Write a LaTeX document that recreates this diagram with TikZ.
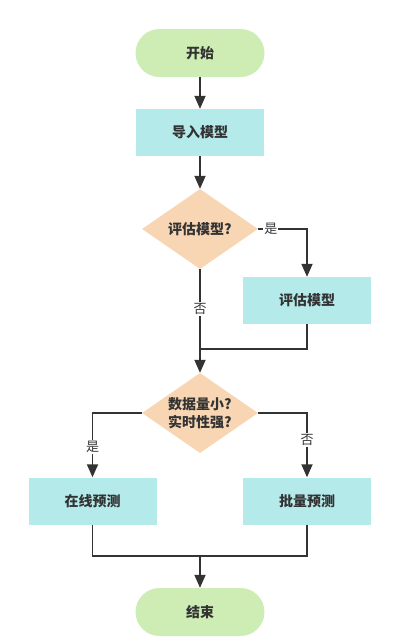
\documentclass[tikz,border=0pt]{standalone}
\usepackage{fontspec}
\setmainfont{Noto Sans CJK SC}
\usetikzlibrary{shapes.geometric,arrows.meta}
\definecolor{termgreen}{HTML}{CDEDB4}
\definecolor{boxcyan}{HTML}{B5EAEA}
\definecolor{diapeach}{HTML}{F8D5B3}
\definecolor{linegray}{HTML}{333333}
\begin{document}
\begin{tikzpicture}[x=1pt,y=-1pt,
  term/.style={rectangle, rounded corners=24pt, fill=termgreen, minimum width=129pt, minimum height=48pt, inner sep=0pt, font=\bfseries\fontsize{14}{16}\selectfont, text=linegray},
  procbox/.style={rectangle, fill=boxcyan, minimum width=128pt, minimum height=47pt, inner sep=0pt, font=\bfseries\fontsize{14}{16}\selectfont, text=linegray},
  dia/.style={diamond, fill=diapeach, minimum width=116pt, minimum height=80pt, inner sep=0pt},
  diatext/.style={font=\bfseries\fontsize{14}{18}\selectfont, text=linegray, align=center, inner sep=0pt},
  conn/.style={draw=linegray, line width=1.8pt},
  arr/.style={conn, -{Triangle[length=13pt,width=11pt]}},
  lbl/.style={fill=white, font=\fontsize{13}{13}\selectfont, text=linegray, inner sep=1pt}
]
\useasboundingbox (0,0) rectangle (394,643);
\node[term] (start) at (200,53) {开始};
\node[procbox] (import) at (200,132.5) {导入模型};
\node[dia] (d1) at (200,229) {};
\node[diatext] (d1t) at (d1) {评估模型?};
\node[procbox] (eval) at (307,300.5) {评估模型};
\coordinate (j1) at (200,349);
\node[dia] (d2) at (200,413) {};
\node[diatext] (d2t) at (d2) {数据量小?\\实时性强?};
\node[procbox] (online) at (92.5,501) {在线预测};
\node[procbox] (batch) at (307,501) {批量预测};
\coordinate (j2) at (200,556);
\node[term] (end) at (200,612) {结束};

\draw[arr] (start) -- (import);
\draw[arr] (import) -- (d1);
\draw[arr] (d1.east) -| node[lbl, pos=0.13] {是} (eval.north);
\draw[conn] (d1.south) -- node[lbl] {否} (j1);
\draw[conn] (eval.south) |- (j1);
\draw[arr] (j1) -- (d2.north);
\draw[arr] (d2.west) -| node[lbl, pos=0.765] {是} (online.north);
\draw[arr] (d2.east) -| node[lbl, pos=0.71] {否} (batch.north);
\draw[conn] (online.south) |- (j2);
\draw[conn] (batch.south) |- (j2);
\draw[arr] (j2) -- (end);
\end{tikzpicture}
\end{document}
